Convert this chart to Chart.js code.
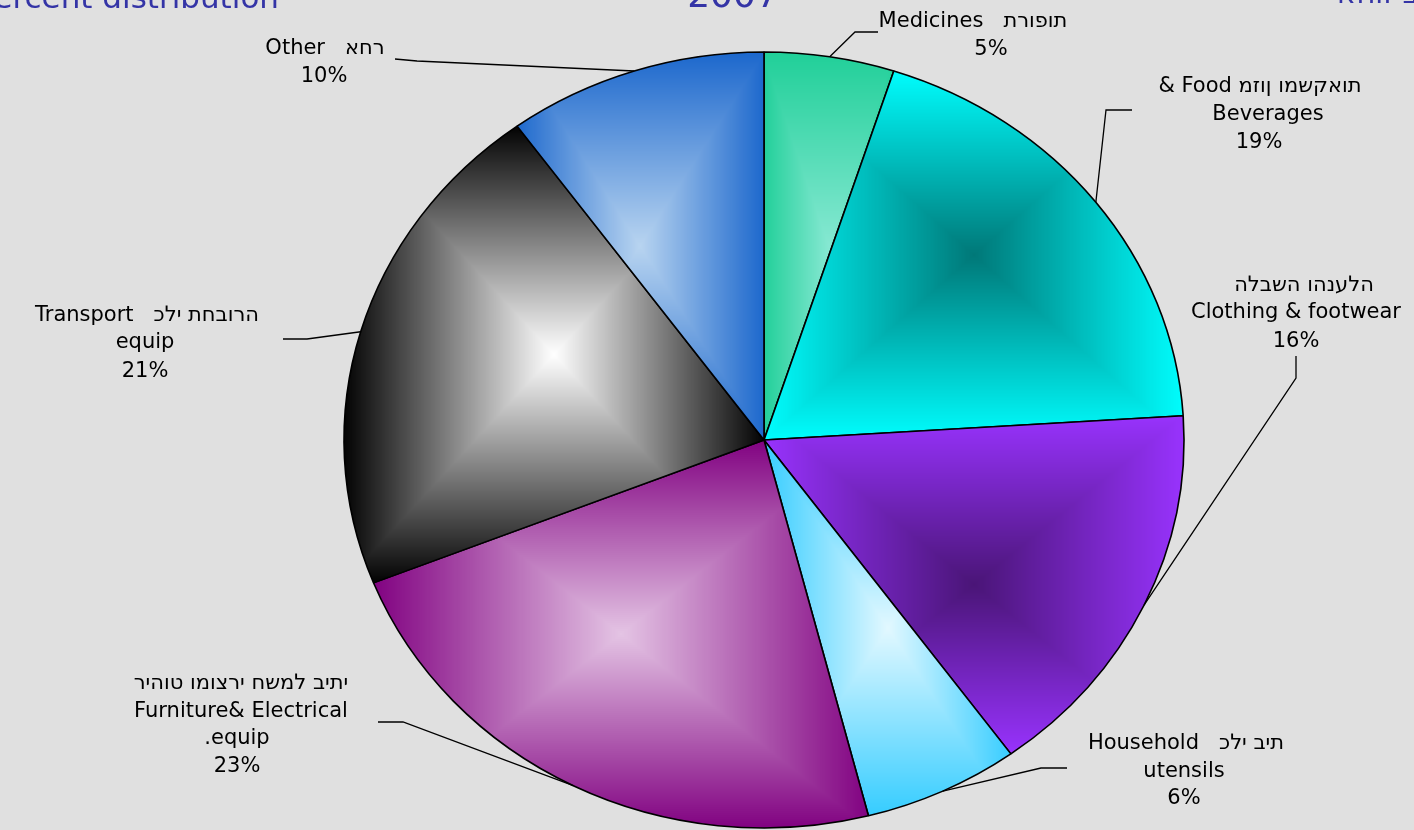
<!DOCTYPE html>
<html>
<head>
<meta charset="utf-8">
<script src="https://cdn.jsdelivr.net/npm/chart.js@4.4.1/dist/chart.umd.min.js"></script>
<style>
html,body{margin:0;padding:0;background:#e0e0e0;overflow:hidden;}
#wrap{position:relative;width:1414px;height:830px;}
canvas{display:block;}
</style>
</head>
<body>
<div id="wrap"><canvas id="c" width="1414" height="830"></canvas></div>
<script>
// ---- data ----
const categories = ['Medicines', 'Food & Beverages', 'Clothing & footwear', 'Household utensils', 'Furniture& Electrical equip.', 'Transport equip', 'Other'];
const hebrewNames = ['תרופות', 'מזון ומשקאות', 'הלבשה והנעלה', 'כלי בית', 'ריהוט ומוצרי חשמל ביתי', 'כלי תחבורה', 'אחר'];
const values = [5, 19, 16, 6, 23, 21, 10];
// label text lines as they appear in the picture, percentage appended from values
const labelLines = [
  ['Medicines   תרופות'],
  ['& Food מזון ומשקאות', 'Beverages'],
  ['הלבשה והנעלה', 'Clothing & footwear'],
  ['Household   כלי בית', 'utensils'],
  ['ריהוט ומוצרי חשמל ביתי', 'Furniture& Electrical', '.equip'],
  ['Transport   כלי תחבורה', 'equip'],
  ['Other   אחר']
];
const titleText = '2007';
const leftTitle = 'Percent distribution';
const rightTitle = 'אחוז ב';

// ---- styles ----
const edgeColors   = ['#1fcf98', '#00ffff', '#9933ff', '#33ccff', '#800080', '#000000', '#1a66cc'];
const centerColors = ['#86e8d2', '#007878', '#4a1577', '#e2f8ff', '#e4c4e4', '#ffffff', '#b8d4f0'];
const PIE_RADIUS = 388;
const SX = 420 / 388; // horizontal stretch (pie drawn as ellipse)

const labelLayout = [
  {pos: [[973, 27], [991, 55]], from: [878, 32], elbow: [855, 32]},
  {pos: [[1260, 92], [1268, 120], [1259, 148]], from: [1132, 110], elbow: [1106, 110]},
  {pos: [[1304, 291], [1296, 318], [1296, 347]], from: [1296, 356], elbow: [1296, 378]},
  {pos: [[1186, 749], [1184, 777], [1184, 804]], from: [1067, 768], elbow: [1041, 768]},
  {pos: [[241, 689], [241, 717], [237, 744], [237, 772]], from: [378, 722], elbow: [403, 722]},
  {pos: [[147, 321], [145, 348], [145, 377]], from: [283, 339], elbow: [307, 339]},
  {pos: [[325, 54], [324, 82]], from: [395, 59], elbow: [417, 61]}
];

function hexToRgb(h) {
  const n = parseInt(h.slice(1), 16);
  return [(n >> 16) & 255, (n >> 8) & 255, n & 255];
}

// Hebrew glyphs are placed one by one, left to right in stored order (as the reference shows them)
function drawText(ctx, s, x, y, align) {
  const segs = s.match(/[\u0590-\u05FF]|[^\u0590-\u05FF]+/g) || [];
  const widths = segs.map(t => ctx.measureText(t).width);
  const total = widths.reduce((a, b) => a + b, 0);
  let px = align === 'center' ? x - total / 2 : (align === 'right' ? x - total : x);
  ctx.save();
  ctx.textAlign = 'left';
  ctx.direction = 'ltr';
  segs.forEach((t, k) => { ctx.fillText(t, px, y); px += widths[k]; });
  ctx.restore();
}

const patternCache = {};
function slicePattern(context) {
  const chart = context.chart;
  const i = context.dataIndex;
  const ca = chart.chartArea;
  if (!ca) return edgeColors[i];
  const key = i + '_' + ca.left + '_' + ca.top + '_' + ca.right + '_' + ca.bottom;
  if (patternCache[key]) return patternCache[key];
  const cx = (ca.left + ca.right) / 2, cy = (ca.top + ca.bottom) / 2, r = PIE_RADIUS;
  const total = values.reduce((a, b) => a + b, 0);
  let cum = 0;
  for (let k = 0; k < i; k++) cum += values[k];
  const a0 = -Math.PI / 2 + 2 * Math.PI * cum / total;
  const a1 = a0 + 2 * Math.PI * values[i] / total;
  const pts = [[cx, cy], [cx + r * Math.cos(a0), cy + r * Math.sin(a0)], [cx + r * Math.cos(a1), cy + r * Math.sin(a1)]];
  for (let k = -1; k <= 4; k++) {
    const a = k * Math.PI / 2;
    if (a > a0 && a < a1) pts.push([cx + r * Math.cos(a), cy + r * Math.sin(a)]);
  }
  let L = Infinity, R = -Infinity, T = Infinity, B = -Infinity;
  pts.forEach(p => { L = Math.min(L, p[0]); R = Math.max(R, p[0]); T = Math.min(T, p[1]); B = Math.max(B, p[1]); });
  L = Math.floor(L) - 2; T = Math.floor(T) - 2; R = Math.ceil(R) + 2; B = Math.ceil(B) + 2;
  const w = R - L, h = B - T;
  const mx = w / 2, my = h / 2;
  const off = document.createElement('canvas');
  off.width = chart.width; off.height = chart.height;
  const o = off.getContext('2d');
  const img = o.createImageData(w, h);
  const c0 = hexToRgb(centerColors[i]), c1 = hexToRgb(edgeColors[i]);
  for (let y = 0; y < h; y++) {
    for (let x = 0; x < w; x++) {
      const t = Math.min(1, Math.max(Math.abs(x + 0.5 - mx) / mx, Math.abs(y + 0.5 - my) / my));
      const idx = (y * w + x) * 4;
      img.data[idx] = c0[0] + (c1[0] - c0[0]) * t;
      img.data[idx + 1] = c0[1] + (c1[1] - c0[1]) * t;
      img.data[idx + 2] = c0[2] + (c1[2] - c0[2]) * t;
      img.data[idx + 3] = 255;
    }
  }
  o.putImageData(img, L, T);
  const pat = chart.ctx.createPattern(off, 'no-repeat');
  patternCache[key] = pat;
  return pat;
}

const ellipsePlugin = {
  id: 'ellipse',
  beforeDatasetsDraw(chart) {
    const ctx = chart.ctx;
    const ca = chart.chartArea;
    const cx = (ca.left + ca.right) / 2;
    ctx.save();
    ctx.translate(cx, 0);
    ctx.scale(SX, 1);
    ctx.translate(-cx, 0);
  },
  afterDatasetsDraw(chart) {
    chart.ctx.restore();
  }
};

const labelPlugin = {
  id: 'pieLabels',
  afterDraw(chart) {
    const ctx = chart.ctx;
    const meta = chart.getDatasetMeta(0);
    ctx.save();
    // titles (partially cut off at top edge)
    ctx.fillStyle = '#3434a6';
    ctx.textBaseline = 'alphabetic';
    ctx.font = '31px "DejaVu Sans"';
    drawText(ctx, leftTitle, 279, 8, 'right');
    ctx.font = '36px "DejaVu Sans"';
    drawText(ctx, titleText, 733, 7, 'center');
    ctx.font = '29px "DejaVu Sans"';
    drawText(ctx, rightTitle, 1337, 3, 'left');

    // leader lines
    ctx.strokeStyle = '#000';
    ctx.lineWidth = 1.3;
    meta.data.forEach((arc, i) => {
      const p = arc.getProps(['x', 'y', 'startAngle', 'endAngle', 'outerRadius'], true);
      const mid = (p.startAngle + p.endAngle) / 2;
      const ex = p.x + SX * p.outerRadius * Math.cos(mid);
      const ey = p.y + p.outerRadius * Math.sin(mid);
      const lay = labelLayout[i];
      ctx.beginPath();
      ctx.moveTo(lay.from[0], lay.from[1]);
      ctx.lineTo(lay.elbow[0], lay.elbow[1]);
      ctx.lineTo(ex, ey);
      ctx.stroke();
    });

    // label texts
    ctx.fillStyle = '#000';
    ctx.font = '21px "DejaVu Sans"';
    meta.data.forEach((arc, i) => {
      const lines = labelLines[i].concat([values[i] + '%']);
      const lay = labelLayout[i];
      lines.forEach((t, j) => {
        drawText(ctx, t, lay.pos[j][0], lay.pos[j][1], 'center');
      });
    });
    ctx.restore();
  }
};

new Chart(document.getElementById('c'), {
  type: 'pie',
  data: {
    labels: categories,
    datasets: [{
      data: values,
      backgroundColor: slicePattern,
      borderColor: '#000000',
      borderWidth: 1.5,
      radius: PIE_RADIUS,
      clip: false
    }]
  },
  options: {
    responsive: false,
    animation: false,
    events: [],
    layout: {padding: {top: 52, bottom: 2, left: 300, right: 186}},
    plugins: {
      legend: {display: false},
      tooltip: {enabled: false},
      title: {display: false}
    }
  },
  plugins: [ellipsePlugin, labelPlugin]
});
</script>
</body>
</html>
